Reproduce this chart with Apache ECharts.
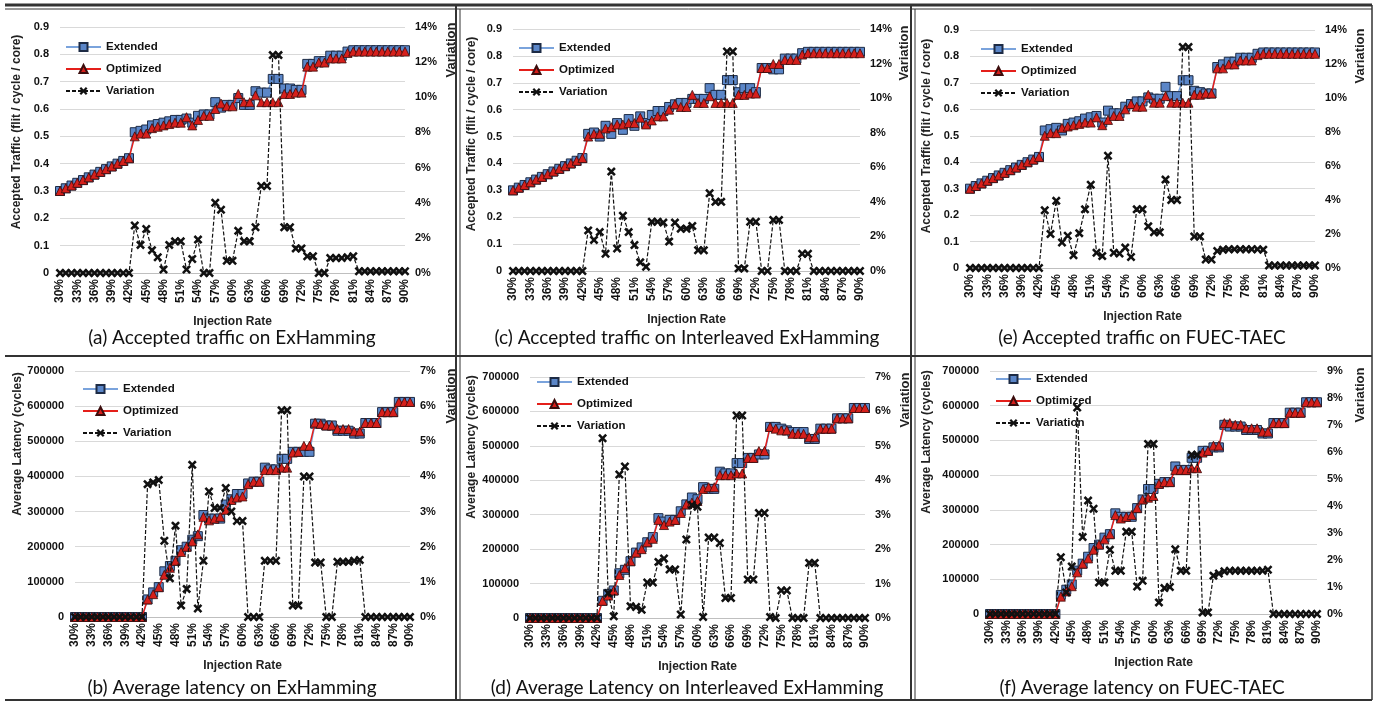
<!DOCTYPE html>
<html>
<head>
<meta charset="utf-8">
<script src="https://cdn.jsdelivr.net/npm/echarts@6/dist/echarts.min.js"></script>
<style>html,body{margin:0;padding:0;background:#fff;}#c{width:1375px;height:704px;}</style>
</head>
<body>
<div id="c"></div>
<script>
// ---------- DATA ----------
const injectionRates = ['30%','31%','32%','33%','34%','35%','36%','37%','38%','39%','40%','41%','42%','43%','44%','45%','46%','47%','48%','49%','50%','51%','52%','53%','54%','55%','56%','57%','58%','59%','60%','61%','62%','63%','64%','65%','66%','67%','68%','69%','70%','71%','72%','73%','74%','75%','76%','77%','78%','79%','80%','81%','82%','83%','84%','85%','86%','87%','88%','89%','90%'];

// (a) Accepted traffic on ExHamming
const aExtended = [0.30,0.31,0.32,0.33,0.34,0.35,0.36,0.37,0.38,0.39,0.40,0.41,0.42,
  0.515,0.52,0.525,0.54,0.545,0.55,0.555,0.56,0.56,0.565,0.55,0.575,0.58,0.58,0.625,0.605,0.615,0.615,0.64,0.615,0.615,0.665,0.66,0.66,0.71,0.71,0.675,0.675,0.67,0.67,0.765,0.765,0.775,0.775,0.795,0.795,0.795,0.81,0.815,0.815,0.815,0.815,0.815,0.815,0.815,0.815,0.815,0.815];
const aOptimized = [0.30,0.31,0.32,0.33,0.34,0.35,0.36,0.37,0.38,0.39,0.40,0.41,0.42,
  0.50,0.51,0.51,0.53,0.535,0.54,0.545,0.55,0.55,0.57,0.54,0.56,0.575,0.575,0.60,0.62,0.61,0.61,0.655,0.625,0.625,0.65,0.625,0.625,0.625,0.625,0.655,0.655,0.66,0.66,0.755,0.755,0.77,0.77,0.785,0.785,0.785,0.805,0.81,0.81,0.81,0.81,0.81,0.81,0.81,0.81,0.81,0.81];
const aVariation = [0,0,0,0,0,0,0,0,0,0,0,0,0,
  2.7,1.6,2.5,1.3,0.9,0.2,1.6,1.8,1.8,0.2,0.8,1.9,0,0,4.0,3.6,0.7,0.7,2.4,1.8,1.8,2.6,4.95,4.95,12.4,12.4,2.6,2.6,1.4,1.4,0.95,0.95,0,0,0.85,0.85,0.85,0.9,0.95,0.1,0.1,0.1,0.1,0.1,0.1,0.1,0.1,0.1];

// (c) Accepted traffic on Interleaved ExHamming
const cExtended = [0.30,0.31,0.32,0.33,0.34,0.35,0.36,0.37,0.38,0.39,0.40,0.41,0.42,
  0.51,0.515,0.50,0.54,0.51,0.55,0.525,0.565,0.54,0.575,0.55,0.58,0.595,0.595,0.61,0.62,0.625,0.625,0.64,0.64,0.64,0.68,0.655,0.655,0.71,0.71,0.665,0.68,0.68,0.665,0.755,0.755,0.75,0.75,0.79,0.79,0.79,0.81,0.815,0.815,0.815,0.815,0.815,0.815,0.815,0.815,0.815,0.815];
const cOptimized = [0.30,0.31,0.32,0.33,0.34,0.35,0.36,0.37,0.38,0.39,0.40,0.41,0.42,
  0.50,0.51,0.51,0.53,0.535,0.545,0.545,0.55,0.55,0.57,0.545,0.56,0.575,0.575,0.60,0.62,0.61,0.61,0.655,0.625,0.625,0.65,0.625,0.625,0.625,0.625,0.655,0.655,0.66,0.66,0.755,0.755,0.77,0.77,0.785,0.785,0.785,0.805,0.81,0.81,0.81,0.81,0.81,0.81,0.81,0.81,0.81,0.81];
const cVariation = [0,0,0,0,0,0,0,0,0,0,0,0,0,
  2.35,1.8,2.25,1.0,5.75,1.3,3.2,2.25,1.5,0.5,0.25,2.85,2.85,2.8,1.7,2.8,2.45,2.45,2.6,1.2,1.2,4.5,4.0,4.0,12.7,12.7,0.15,0.15,2.85,2.85,0,0,2.95,2.95,0,0,0,1.0,1.0,0,0,0,0,0,0,0,0,0];

// (e) Accepted traffic on FUEC-TAEC
const eExtended = [0.30,0.31,0.32,0.33,0.34,0.35,0.36,0.37,0.38,0.39,0.40,0.41,0.42,
  0.52,0.525,0.53,0.52,0.545,0.55,0.555,0.565,0.57,0.575,0.55,0.595,0.585,0.585,0.61,0.62,0.63,0.63,0.645,0.64,0.64,0.685,0.65,0.65,0.71,0.71,0.67,0.665,0.66,0.66,0.76,0.77,0.78,0.78,0.795,0.795,0.795,0.81,0.815,0.815,0.815,0.815,0.815,0.815,0.815,0.815,0.815,0.815];
const eOptimized = [0.30,0.31,0.32,0.33,0.34,0.35,0.36,0.37,0.38,0.39,0.40,0.41,0.42,
  0.50,0.51,0.51,0.53,0.535,0.54,0.545,0.55,0.55,0.57,0.54,0.56,0.575,0.575,0.60,0.62,0.61,0.61,0.655,0.625,0.625,0.65,0.625,0.625,0.625,0.625,0.655,0.655,0.66,0.66,0.755,0.755,0.77,0.77,0.785,0.785,0.785,0.805,0.81,0.81,0.81,0.81,0.81,0.81,0.81,0.81,0.81,0.81];
const eVariation = [0,0,0,0,0,0,0,0,0,0,0,0,0,
  3.4,2.0,3.95,1.5,1.9,0.75,2.05,3.45,4.9,0.9,0.7,6.6,0.9,0.85,1.2,0.65,3.45,3.45,2.45,2.1,2.1,5.2,4.0,4.0,13.0,13.0,1.85,1.85,0.5,0.5,1.0,1.08,1.1,1.1,1.1,1.1,1.1,1.1,1.08,0.15,0.15,0.15,0.15,0.15,0.15,0.15,0.15,0.15];

// (b) Average latency on ExHamming
const bExtended = [0,0,0,0,0,0,0,0,0,0,0,0,0,
  50000,70000,85000,130000,145000,160000,190000,200000,220000,230000,290000,280000,280000,280000,320000,335000,350000,350000,380000,385000,385000,425000,420000,420000,450000,450000,470000,470000,470000,470000,550000,550000,545000,545000,530000,530000,530000,522000,522000,552000,552000,552000,583000,583000,583000,612000,612000,612000];
const bOptimized = [0,0,0,0,0,0,0,0,0,0,0,0,0,
  50000,65000,85000,120000,140000,160000,185000,200000,215000,235000,285000,275000,280000,285000,305000,333000,340000,343000,378000,385000,385000,418000,418000,418000,425000,425000,468000,470000,487000,487000,553000,550000,545000,545000,535000,535000,535000,528000,528000,552000,552000,552000,583000,583000,583000,612000,612000,612000];
const bVariation = [0,0,0,0,0,0,0,0,0,0,0,0,0,
  3.78,3.83,3.9,2.17,1.1,2.6,0.33,0.8,4.33,0.24,1.6,3.57,3.1,3.1,3.67,3.0,2.73,2.73,0,0,0,1.6,1.6,1.6,5.88,5.88,0.33,0.33,4.0,4.0,1.55,1.55,0,0,1.57,1.57,1.57,1.6,1.62,0,0,0,0,0,0,0,0,0];

// (d) Average Latency on Interleaved ExHamming
const dExtended = [0,0,0,0,0,0,0,0,0,0,0,0,0,
  50000,70000,80000,130000,140000,165000,190000,205000,220000,235000,290000,280000,285000,285000,310000,330000,350000,345000,380000,375000,375000,425000,420000,420000,450000,450000,465000,465000,475000,475000,555000,555000,550000,545000,540000,540000,540000,520000,520000,550000,550000,550000,580000,580000,580000,610000,610000,610000];
const dOptimized = [0,0,0,0,0,0,0,0,0,0,0,0,0,
  50000,65000,80000,125000,145000,165000,190000,200000,220000,230000,285000,270000,280000,285000,305000,330000,335000,340000,375000,380000,380000,415000,415000,415000,420000,420000,465000,465000,485000,485000,555000,550000,545000,545000,535000,535000,535000,525000,525000,550000,550000,550000,580000,580000,580000,610000,610000,610000];
const dVariation = [0,0,0,0,0,0,0,0,0,0,0,0,0,
  5.22,0.72,0.05,4.17,4.4,0.34,0.32,0.24,1.03,1.03,1.63,1.73,1.41,1.41,0.1,2.28,3.28,3.23,0.03,2.34,2.34,2.18,0.58,0.58,5.88,5.88,1.12,1.12,3.05,3.05,0.03,0,0.8,0.8,0,0,0,1.6,1.6,0,0,0,0,0,0,0,0,0];

// (f) Average latency on FUEC-TAEC
const fExtended = [0,0,0,0,0,0,0,0,0,0,0,0,0,
  55000,70000,85000,125000,145000,165000,190000,200000,220000,230000,290000,280000,280000,280000,305000,330000,360000,360000,375000,380000,380000,425000,415000,415000,450000,450000,470000,470000,480000,480000,545000,540000,540000,540000,530000,530000,530000,520000,520000,550000,550000,550000,580000,580000,580000,610000,610000,610000];
const fOptimized = [0,0,0,0,0,0,0,0,0,0,0,0,0,
  50000,65000,80000,120000,145000,160000,185000,200000,215000,230000,285000,275000,280000,285000,305000,330000,335000,340000,375000,380000,380000,415000,415000,415000,420000,420000,465000,470000,485000,485000,550000,550000,545000,545000,535000,535000,535000,525000,525000,550000,550000,550000,580000,580000,580000,610000,610000,610000];
const fVariation = [0,0,0,0,0,0,0,0,0,0,0,0,0,
  2.1,0.8,1.76,7.65,2.85,4.2,3.9,1.17,1.17,2.38,1.6,1.6,3.05,3.05,1.02,1.23,6.3,6.3,0.43,0.96,1.0,2.4,1.6,1.6,5.9,5.9,0.06,0.06,1.42,1.5,1.58,1.6,1.6,1.6,1.6,1.6,1.6,1.6,1.64,0,0,0,0,0,0,0,0,0];

const captions = ['(a) Accepted traffic on ExHamming','(c) Accepted traffic on Interleaved ExHamming','(e) Accepted traffic on FUEC-TAEC',
  '(b) Average latency on ExHamming','(d) Average Latency on Interleaved ExHamming','(f) Average latency on FUEC-TAEC'];
const seriesNames = ['Extended','Optimized','Variation'];
const xAxisTitle = 'Injection Rate';
const trafficTitle = 'Accepted Traffic (flit / cycle / core)';
const latencyTitle = 'Average Latency (cycles)';
const variationTitle = 'Variation';

// ---------- LAYOUT ----------
const FONT = "'Liberation Sans',Arial,sans-serif";
const panels = [
  {ext:aExtended,opt:aOptimized,vari:aVariation,grid:{left:60,top:27,width:345,height:246},lmax:0.9,lint:0.1,rmax:14,rint:2,
   legend:{left:60,top:36},ytitle:trafficTitle,ytx:17,yty:132,vtx:451,vty:50,cap:{x:232,y:338}},
  {ext:cExtended,opt:cOptimized,vari:cVariation,grid:{left:513,top:29,width:347,height:242},lmax:0.9,lint:0.1,rmax:14,rint:2,
   legend:{left:513,top:37},ytitle:trafficTitle,ytx:472,yty:134,vtx:904,vty:53,cap:{x:687,y:338}},
  {ext:eExtended,opt:eOptimized,vari:eVariation,grid:{left:970,top:30,width:345,height:238},lmax:0.9,lint:0.1,rmax:14,rint:2,
   legend:{left:975,top:38},ytitle:trafficTitle,ytx:927,yty:136,vtx:1360,vty:56,cap:{x:1142,y:338}},
  {ext:bExtended,opt:bOptimized,vari:bVariation,grid:{left:75,top:371,width:335,height:246},lmax:700000,lint:100000,rmax:7,rint:1,
   legend:{left:77,top:378},ytitle:latencyTitle,ytx:18,yty:444,vtx:451,vty:396,cap:{x:232,y:688}},
  {ext:dExtended,opt:dOptimized,vari:dVariation,grid:{left:530,top:377,width:335,height:241},lmax:700000,lint:100000,rmax:7,rint:1,
   legend:{left:531,top:371},ytitle:latencyTitle,ytx:472,yty:447,vtx:905,vty:400,cap:{x:687,y:688}},
  {ext:fExtended,opt:fOptimized,vari:fVariation,grid:{left:990,top:371,width:327,height:243},lmax:700000,lint:100000,rmax:9,rint:1,
   legend:{left:990,top:368},ytitle:latencyTitle,ytx:927,yty:442,vtx:1360,vty:395,cap:{x:1142,y:688}}
];

const XPATH = 'path://M2,0L5,3L8,0L10,2L7,5L10,8L8,10L5,7L2,10L0,8L3,5L0,2Z';
const option = {animation:false, backgroundColor:'#fff', grid:[], xAxis:[], yAxis:[], series:[], legend:[], graphic:[]};

panels.forEach((p,i)=>{
  option.grid.push(Object.assign({containLabel:false}, p.grid));
  option.xAxis.push({type:'category', gridIndex:i, data:injectionRates, boundaryGap:false,
    name:xAxisTitle, nameLocation:'middle', nameGap:43,
    nameTextStyle:{fontFamily:FONT,fontWeight:'bold',fontSize:12,color:'#222'},
    axisLine:{lineStyle:{color:'#bfbfbf'}}, axisTick:{show:false},
    axisLabel:{interval:2, rotate:90, margin:6, fontFamily:FONT, fontWeight:'bold', fontSize:12, color:'#111'}});
  option.yAxis.push({type:'value', gridIndex:i, min:0, max:p.lmax, interval:p.lint,
    axisLine:{show:false}, axisTick:{show:false},
    splitLine:{lineStyle:{color:'#d9d9d9',width:1}},
    axisLabel:{margin:11, fontFamily:FONT, fontWeight:'bold', fontSize:11, color:'#111', formatter:v=>String(v)}});
  option.yAxis.push({type:'value', gridIndex:i, position:'right', min:0, max:p.rmax, interval:p.rint,
    axisLine:{show:false}, axisTick:{show:false}, splitLine:{show:false},
    axisLabel:{margin:10, fontFamily:FONT, fontWeight:'bold', fontSize:11, color:'#111', formatter:'{value}%'}});
  option.series.push({name:seriesNames[0], type:'line', xAxisIndex:i, yAxisIndex:2*i, data:p.ext,
    showAllSymbol:true, symbol:'rect', symbolSize:9, lineStyle:{color:'#7aa3dc',width:1.5},
    itemStyle:{color:'#5b86c8',borderColor:'#1d2b45',borderWidth:1}, z:2});
  option.series.push({name:seriesNames[1], type:'line', xAxisIndex:i, yAxisIndex:2*i, data:p.opt,
    showAllSymbol:true, symbol:'triangle', symbolSize:9, lineStyle:{color:'#e41f1a',width:1.5},
    itemStyle:{color:'#d61f1b',borderColor:'#3b0d0d',borderWidth:0.8}, z:3});
  option.series.push({name:seriesNames[2], type:'line', xAxisIndex:i, yAxisIndex:2*i+1, data:p.vari,
    showAllSymbol:true, symbol:XPATH, symbolSize:9, lineStyle:{color:'#111',width:1.2,type:[4,2]},
    itemStyle:{color:'#111'}, z:4});
  option.legend.push({left:p.legend.left, top:p.legend.top, orient:'vertical', itemGap:10, itemWidth:35, itemHeight:10,
    data:seriesNames, textStyle:{fontFamily:FONT,fontWeight:'bold',fontSize:11.5,color:'#111'}, selectedMode:false});
  option.graphic.push({type:'text', x:p.ytx, y:p.yty, rotation:Math.PI/2,
    style:{text:p.ytitle, font:"bold 12px "+FONT, fill:'#222', align:'center', verticalAlign:'middle'}});
  option.graphic.push({type:'text', x:p.vtx, y:p.vty, rotation:Math.PI/2,
    style:{text:variationTitle, font:"bold 13px "+FONT, fill:'#222', align:'center', verticalAlign:'middle'}});
  option.graphic.push({type:'text', x:p.cap.x, y:p.cap.y,
    style:{text:captions[i], font:"19px Lato, 'Open Sans', sans-serif", fill:'#111', align:'center', verticalAlign:'middle'}});
});

// frame lines
const frame = [
  {x1:5,y1:5,x2:1372,y2:5,w:3},{x1:5,y1:9,x2:1372,y2:9,w:1},
  {x1:5,y1:356,x2:1372,y2:356,w:2},
  {x1:5,y1:700,x2:1372,y2:700,w:2},
  {x1:456,y1:5,x2:456,y2:700,w:2},{x1:460,y1:9,x2:460,y2:700,w:1},
  {x1:911,y1:5,x2:911,y2:700,w:2},{x1:915,y1:9,x2:915,y2:700,w:1},
  {x1:1372,y1:5,x2:1372,y2:700,w:1.5}
];
frame.forEach(f=>option.graphic.push({type:'line', shape:{x1:f.x1,y1:f.y1,x2:f.x2,y2:f.y2}, style:{stroke:'#333',lineWidth:f.w}, silent:true}));

const chart = echarts.init(document.getElementById('c'));
chart.setOption(option);
</script>
</body>
</html>
